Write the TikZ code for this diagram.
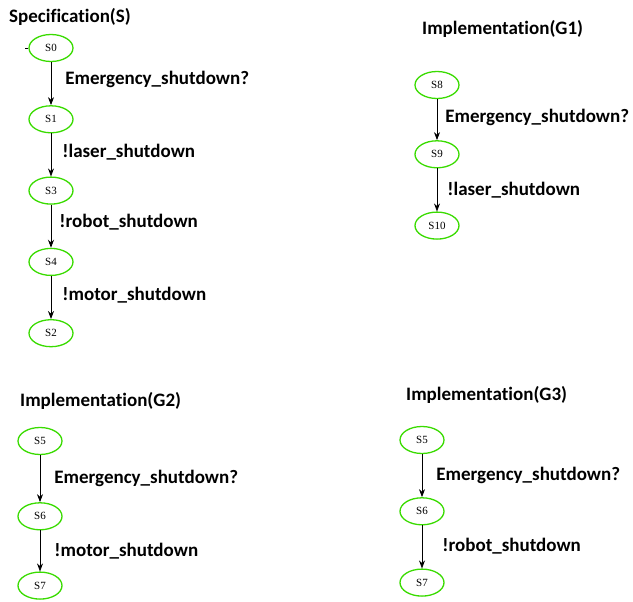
\documentclass[tikz,border=0pt]{standalone}
\usepackage{fontspec}
\setmainfont{Liberation Serif}
\newfontfamily\lblfont[Ligatures=NoCommon]{Carlito}
\usetikzlibrary{positioning,arrows.meta,shapes.geometric}

\tikzset{
	state/.style={ellipse,draw=green!80!black!70!lime,line width=1.3pt,minimum width=44pt,minimum height=27pt,inner sep=0pt,font=\fontsize{11}{11}\selectfont},
	lbl/.style={font=\lblfont\bfseries\fontsize{19}{19}\selectfont,right=6pt,inner sep=0pt},
	ttl/.style={font=\lblfont\bfseries\fontsize{19}{19}\selectfont,anchor=west,inner sep=0pt},
	trans/.style={-{Stealth[length=8pt,width=6pt]},line width=0.8pt}
}

\begin{document}
\begin{tikzpicture}[x=1pt,y=-1pt,node distance=43pt]
	\useasboundingbox (0,0) rectangle (633,602);

	% specification
	\node[ttl] (spec) at (9,17) {Specification(S)};
	\node[state] (s0) at (51,48) {S0};
	\node[state] (s1)[below=of s0] {S1};
	\node[state] (s3)[below=of s1] {S3};
	\node[state] (s4)[below=of s3] {S4};
	\node[state] (s2)[below=of s4] {S2};

	% implementation G1
	\node[ttl] (impI) at (422,29) {Implementation(G1)};
	\node[state] (s8) at (437,85) {S8};
	\node[state] (s9)[below=41pt of s8] {S9};
	\node[state] (s10)[below=43pt of s9] {S10};

	% implementation G2
	\node[ttl] (impII) at (20,401) {Implementation(G2)};
	\node[state] (g2s5) at (40,441) {S5};
	\node[state] (g2s6)[below=47pt of g2s5] {S6};
	\node[state] (g2s7)[below=41pt of g2s6] {S7};

	% implementation G3
	\node[ttl] (impIII) at (406,395) {Implementation(G3)};
	\node[state] (g3s5) at (422,440) {S5};
	\node[state] (g3s6)[below=43pt of g3s5] {S6};
	\node[state] (g3s7)[below=43pt of g3s6] {S7};

	% draw the connections
	\draw[line width=0.7pt] (s0.west)--++(-3,0);
	\draw[trans] (s0)--node[lbl,right=14pt,yshift=4pt]{Emergency\_shutdown?}(s1);
	\draw[trans] (s1)--node[lbl,right=11pt,yshift=3pt]{!laser\_shutdown}(s3);
	\draw[trans] (s3)--node[lbl,right=8pt,yshift=4pt]{!robot\_shutdown}(s4);
	\draw[trans] (s4)--node[lbl,right=11pt,yshift=2pt]{!motor\_shutdown}(s2);

	\draw[trans] (s8)--node[lbl,right=8pt,yshift=2pt]{Emergency\_shutdown?}(s9);
	\draw[trans] (s9)--node[lbl,right=10pt]{!laser\_shutdown}(s10);

	\draw[trans] (g2s5)--node[lbl,right=14pt]{Emergency\_shutdown?}(g2s6);
	\draw[trans] (g2s6)--node[lbl,right=14pt]{!motor\_shutdown}(g2s7);

	\draw[trans] (g3s5)--node[lbl,right=14pt]{Emergency\_shutdown?}(g3s6);
	\draw[trans] (g3s6)--node[lbl,right=20pt,yshift=1pt]{!robot\_shutdown}(g3s7);
\end{tikzpicture}
\end{document}
